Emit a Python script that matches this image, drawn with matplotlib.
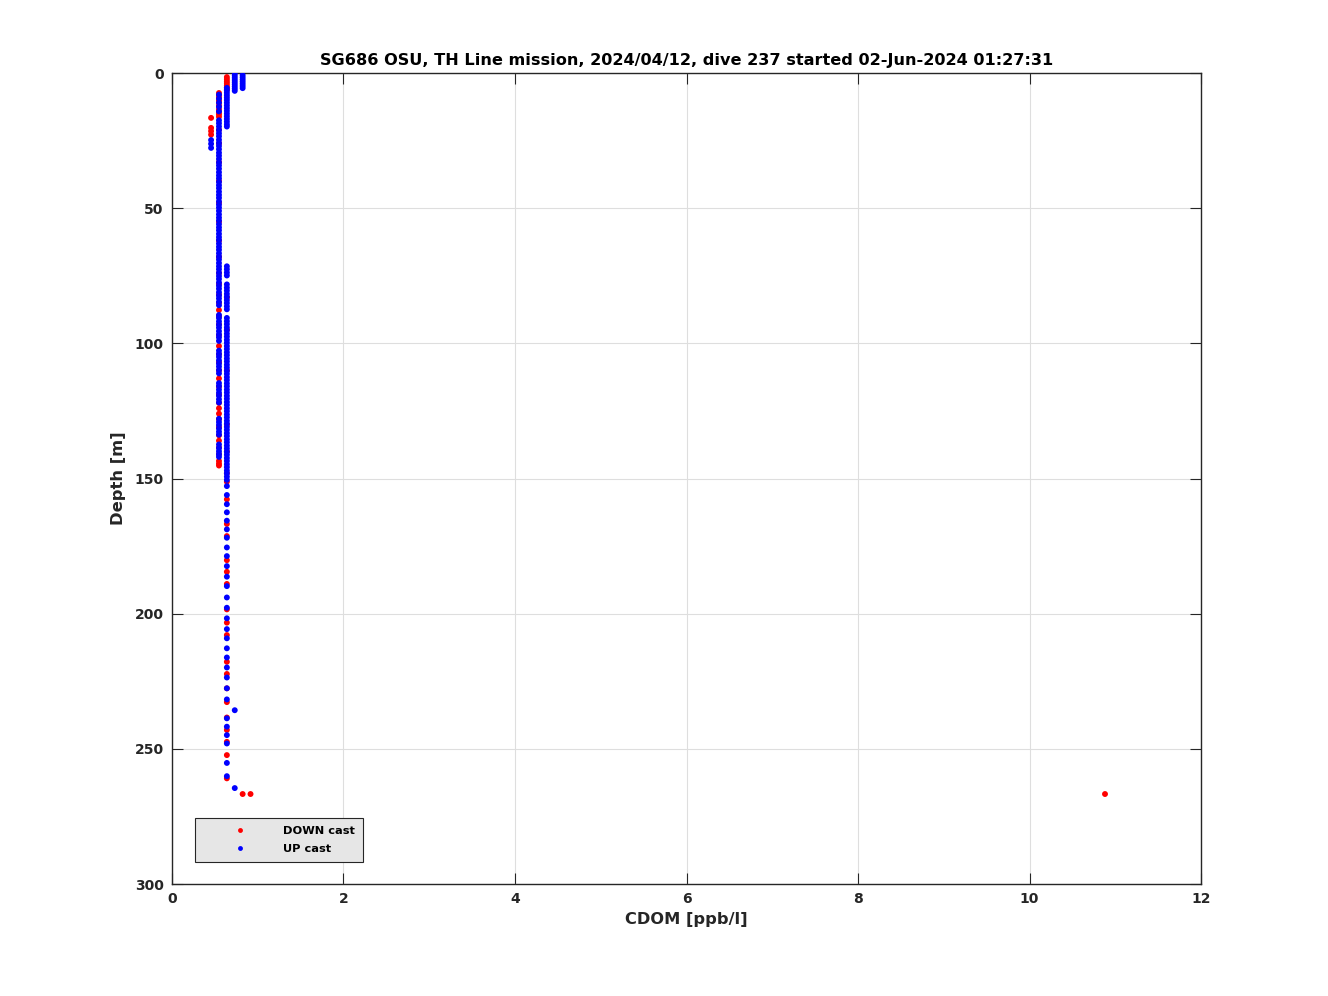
import matplotlib
matplotlib.use("Agg")
import matplotlib.pyplot as plt
from matplotlib.lines import Line2D

plt.rcParams['font.family'] = ['DejaVu Sans']
plt.rcParams['font.weight'] = 'bold'

TITLE = "SG686 OSU, TH Line mission, 2024/04/12, dive 237 started 02-Jun-2024 01:27:31"
XLABEL = "CDOM [ppb/l]"
YLABEL = "Depth [m]"
XTICKS = [0, 2, 4, 6, 8, 10, 12]
YTICKS = [0, 50, 100, 150, 200, 250, 300]

# CDOM quantization levels (ppb/l)
C1, C2, C3, C4, C5, C6, C7 = 0.456, 0.548, 0.640, 0.732, 0.824, 0.916, 10.88

# ---- DOWN cast (red): depth lists per CDOM level ----
down_c3_surface = [1.5, 2.3, 3.1, 3.8, 4.6, 5.4, 6.2]
down_c2 = [7.4, 8.3, 9.1, 10.2, 11.0, 12.1, 13.4, 14.5, 15.3, 16.2,
           21.0, 26.0, 33.0, 40.0, 48.0, 55.0, 62.0, 68.0, 74.0, 78.0,
           82.0, 85.0, 87.7, 90.0, 93.0, 97.0, 101.0, 104.0, 107.0, 110.0,
           113.0, 116.0, 119.0, 122.0, 124.0, 126.0, 128.0, 131.0, 134.0, 136.0,
           138.5, 141.0, 143.5, 144.5, 145.2]
down_c1 = [16.6, 20.3, 21.5, 22.8]
down_c3 = [83.0, 95.0, 110.0, 130.0, 140.0, 148.0,
           151.2, 157.7, 166.8, 171.3, 180.2, 184.5, 189.0, 198.4, 203.3,
           207.9, 217.8, 222.3, 227.6, 232.7, 238.4, 243.0, 247.4, 252.3, 260.9]
down_c5 = [266.7]
down_c6 = [266.7]
down_c7 = [266.7]

# ---- UP cast (blue): depth lists per CDOM level ----
up_c4 = [0.2, 1.0, 1.8, 2.6, 3.4, 4.2, 5.0, 5.8, 6.6, 235.7, 264.5]
up_c5 = [0.8, 1.6, 2.4, 3.2, 4.0, 4.8, 5.6]
up_c3_surface = [5.5, 6.4, 7.3, 8.2, 9.1, 10.0, 11.0, 12.0, 13.0, 14.0,
                 15.0, 16.0, 17.0, 18.0, 19.0, 19.8]
up_c2 = [8.0, 9.5, 11.0, 12.5, 14.2,
         17.5, 18.6, 19.8, 21.1, 22.3, 23.4, 24.7, 25.9, 27.0, 28.2,
         29.5, 30.6, 31.8, 33.1, 34.2, 35.4, 36.7, 37.9, 39.0, 40.3,
         41.5, 42.6, 43.9, 45.1, 46.2, 47.5, 48.7, 49.8, 51.0, 52.3,
         53.5, 54.6, 55.9, 57.1, 58.2, 59.5, 60.7, 61.8, 63.1, 64.3,
         65.4, 66.7, 67.9, 69.0, 70.3, 71.5, 72.6, 73.9, 75.1, 76.2,
         77.5, 78.7, 79.8, 81.1, 82.3, 83.4, 84.7, 85.9, 89.5,
         90.6, 91.9, 93.1, 94.2, 95.5, 96.7, 97.8, 99.1,
         102.7, 103.9, 105.0, 106.3, 107.5, 108.6, 109.9, 111.1,
         114.7, 115.8, 117.1, 118.3, 119.4, 120.7, 121.9,
         127.9, 129.1, 130.2, 131.5, 132.7, 133.8,
         137.4, 138.7, 139.9, 141.0, 142.0]
up_c1 = [24.8, 26.2, 27.7]
up_c3 = [71.5, 72.6, 73.8, 74.9, 78.2, 79.4, 80.5, 81.7, 82.8, 84.0,
         85.1, 86.3, 87.4, 90.6, 91.8, 92.9, 94.1, 95.2, 96.4, 97.5,
         98.7, 99.8, 101.0, 102.1, 103.3, 104.4, 105.6, 106.7, 107.9, 109.0,
         110.2, 111.3, 112.5, 113.6, 114.8, 115.9, 117.1, 118.2, 119.4, 120.5,
         121.7, 122.8, 124.0, 125.1, 126.3, 127.4, 128.6, 129.7, 130.9, 132.0,
         133.2, 134.3, 135.5, 136.6, 137.8, 138.9, 140.1, 141.2, 142.4, 143.5,
         144.7, 145.8, 147.0, 148.1, 149.3, 150.5,
         152.8, 156.1, 159.5, 162.5, 165.6, 168.8, 171.9, 175.5, 178.7, 182.4,
         186.3, 189.8, 194.0, 197.8, 201.7, 205.7, 209.1, 212.8, 216.2, 219.9,
         223.6, 227.6, 231.7, 238.7, 241.8, 244.9, 248.0, 255.2, 260.1]

down_groups = [(C3, down_c3_surface), (C2, down_c2), (C1, down_c1), (C3, down_c3),
               (C5, down_c5), (C6, down_c6), (C7, down_c7)]
up_groups = [(C4, up_c4), (C5, up_c5), (C3, up_c3_surface), (C2, up_c2),
             (C1, up_c1), (C3, up_c3)]

def flatten(groups):
    xs, ys = [], []
    for c, depths in groups:
        xs += [c] * len(depths)
        ys += list(depths)
    return xs, ys

dx, dy = flatten(down_groups)
ux, uy = flatten(up_groups)

fig = plt.figure(figsize=(13.28, 9.96), dpi=100)
ax = fig.add_axes([0.1295, 0.1124, 0.7749, 0.8143])

ax.scatter(dx, dy, s=18, c='#ff0000', edgecolors='none', zorder=3)
ax.scatter(ux, uy, s=18, c='#0000ff', edgecolors='none', zorder=3)

ax.set_xlim(0, 12)
ax.set_ylim(300, 0)
ax.set_xticks(XTICKS)
ax.set_yticks(YTICKS)
ax.grid(True, color='#dedede', linewidth=0.8)
ax.set_axisbelow(True)
ax.tick_params(direction='in', length=8, top=True, right=True, labelsize=10,
               colors='#262626', pad=6)
for lab in ax.get_xticklabels() + ax.get_yticklabels():
    lab.set_fontweight('bold')
for sp in ax.spines.values():
    sp.set_color('#262626')
    sp.set_linewidth(1.0)

ax.set_title(TITLE, fontsize=11.6, fontweight='bold', color='#000000', pad=6)
ax.set_xlabel(XLABEL, fontsize=11.7, fontweight='bold', color='#262626', labelpad=4)
ax.set_ylabel(YLABEL, fontsize=11.8, fontweight='bold', color='#262626', labelpad=6)

handles = [Line2D([], [], linestyle='none', marker='o', markersize=3.5,
                  markerfacecolor='#ff0000', markeredgecolor='none', label='DOWN cast'),
           Line2D([], [], linestyle='none', marker='o', markersize=3.5,
                  markerfacecolor='#0000ff', markeredgecolor='none', label='UP cast')]
leg = ax.legend(handles=handles, loc='lower left', bbox_to_anchor=(0.022, 0.027),
                frameon=True, fancybox=False, facecolor='#e6e6e6', edgecolor='#262626',
                framealpha=1.0, prop={'size': 8.2, 'weight': 'bold'},
                handletextpad=0.55, borderpad=0.7, handlelength=6.5, labelspacing=0.7,
                borderaxespad=0)
leg.get_frame().set_linewidth(0.8)

fig.savefig('out.png', dpi=100)
